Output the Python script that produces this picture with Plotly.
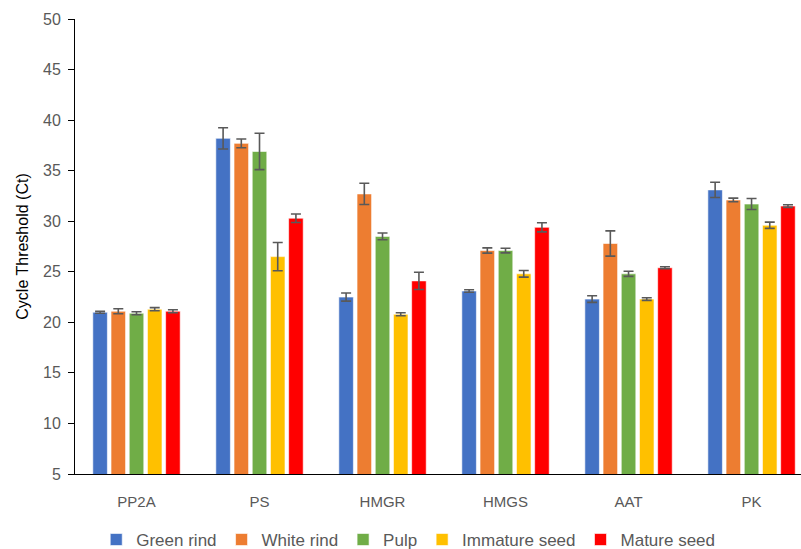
import plotly.graph_objects as go

# Genes on the x axis
genes = ["PP2A", "PS", "HMGR", "HMGS", "AAT", "PK"]

# Mean Ct values per tissue (one value per gene)
green_rind = [21.0, 38.2, 22.5, 23.1, 22.3, 33.1]
white_rind = [21.1, 37.7, 32.7, 27.1, 27.8, 32.1]
pulp = [20.9, 36.9, 28.5, 27.1, 24.8, 31.7]
immature_seed = [21.3, 26.5, 20.8, 24.8, 22.3, 29.6]
mature_seed = [21.1, 30.3, 24.1, 29.4, 25.4, 31.5]

# Standard deviations
green_rind_sd = [0.10, 1.05, 0.40, 0.12, 0.33, 0.76]
white_rind_sd = [0.25, 0.43, 1.05, 0.26, 1.25, 0.18]
pulp_sd = [0.15, 1.80, 0.33, 0.23, 0.25, 0.54]
immature_seed_sd = [0.15, 1.40, 0.15, 0.33, 0.13, 0.31]
mature_seed_sd = [0.15, 0.42, 0.85, 0.45, 0.10, 0.13]

series = [
    ("Green rind", green_rind, green_rind_sd, "#4472C4"),
    ("White rind", white_rind, white_rind_sd, "#ED7D31"),
    ("Pulp", pulp, pulp_sd, "#70AD47"),
    ("Immature seed", immature_seed, immature_seed_sd, "#FFC000"),
    ("Mature seed", mature_seed, mature_seed_sd, "#FF0000"),
]

fig = go.Figure()
for name, vals, sd, color in series:
    fig.add_trace(go.Bar(
        name=name,
        x=genes,
        y=vals,
        marker=dict(color=color, line=dict(color="rgba(255,255,255,0.6)", width=1)),
        error_y=dict(type="data", array=sd, visible=True,
                     color="#595959", thickness=1.6, width=5),
    ))

fig.update_layout(
    width=801,
    height=549,
    margin=dict(l=75, r=0, t=19, b=75, autoexpand=False),
    paper_bgcolor="white",
    plot_bgcolor="white",
    barmode="group",
    bargap=0.26,
    bargroupgap=0.2,
    font=dict(family="Liberation Sans, Arial, sans-serif", color="#595959"),
    legend=dict(
        orientation="h",
        x=0.459, xanchor="center",
        y=-0.145, yanchor="middle",
        font=dict(size=17, color="#595959"),
        itemclick=False,
    ),
    xaxis=dict(
        range=[-0.5, 5.402],
        showline=True, linecolor="black", linewidth=1,
        ticks="", showgrid=False,
        tickfont=dict(size=15, color="#595959"),
        ticklabelstandoff=14,
    ),
    yaxis=dict(
        range=[5, 50],
        tickvals=[5, 10, 15, 20, 25, 30, 35, 40, 45, 50],
        showline=True, linecolor="black", linewidth=1,
        ticks="outside", ticklen=6, tickcolor="black", tickwidth=1,
        showgrid=False, zeroline=False,
        tickfont=dict(size=16, color="#595959"),
        ticklabelstandoff=4,
        title=dict(text="Cycle Threshold (Ct)",
                   font=dict(size=16, color="black"), standoff=10),
    ),
)

fig.write_html("out.html")
